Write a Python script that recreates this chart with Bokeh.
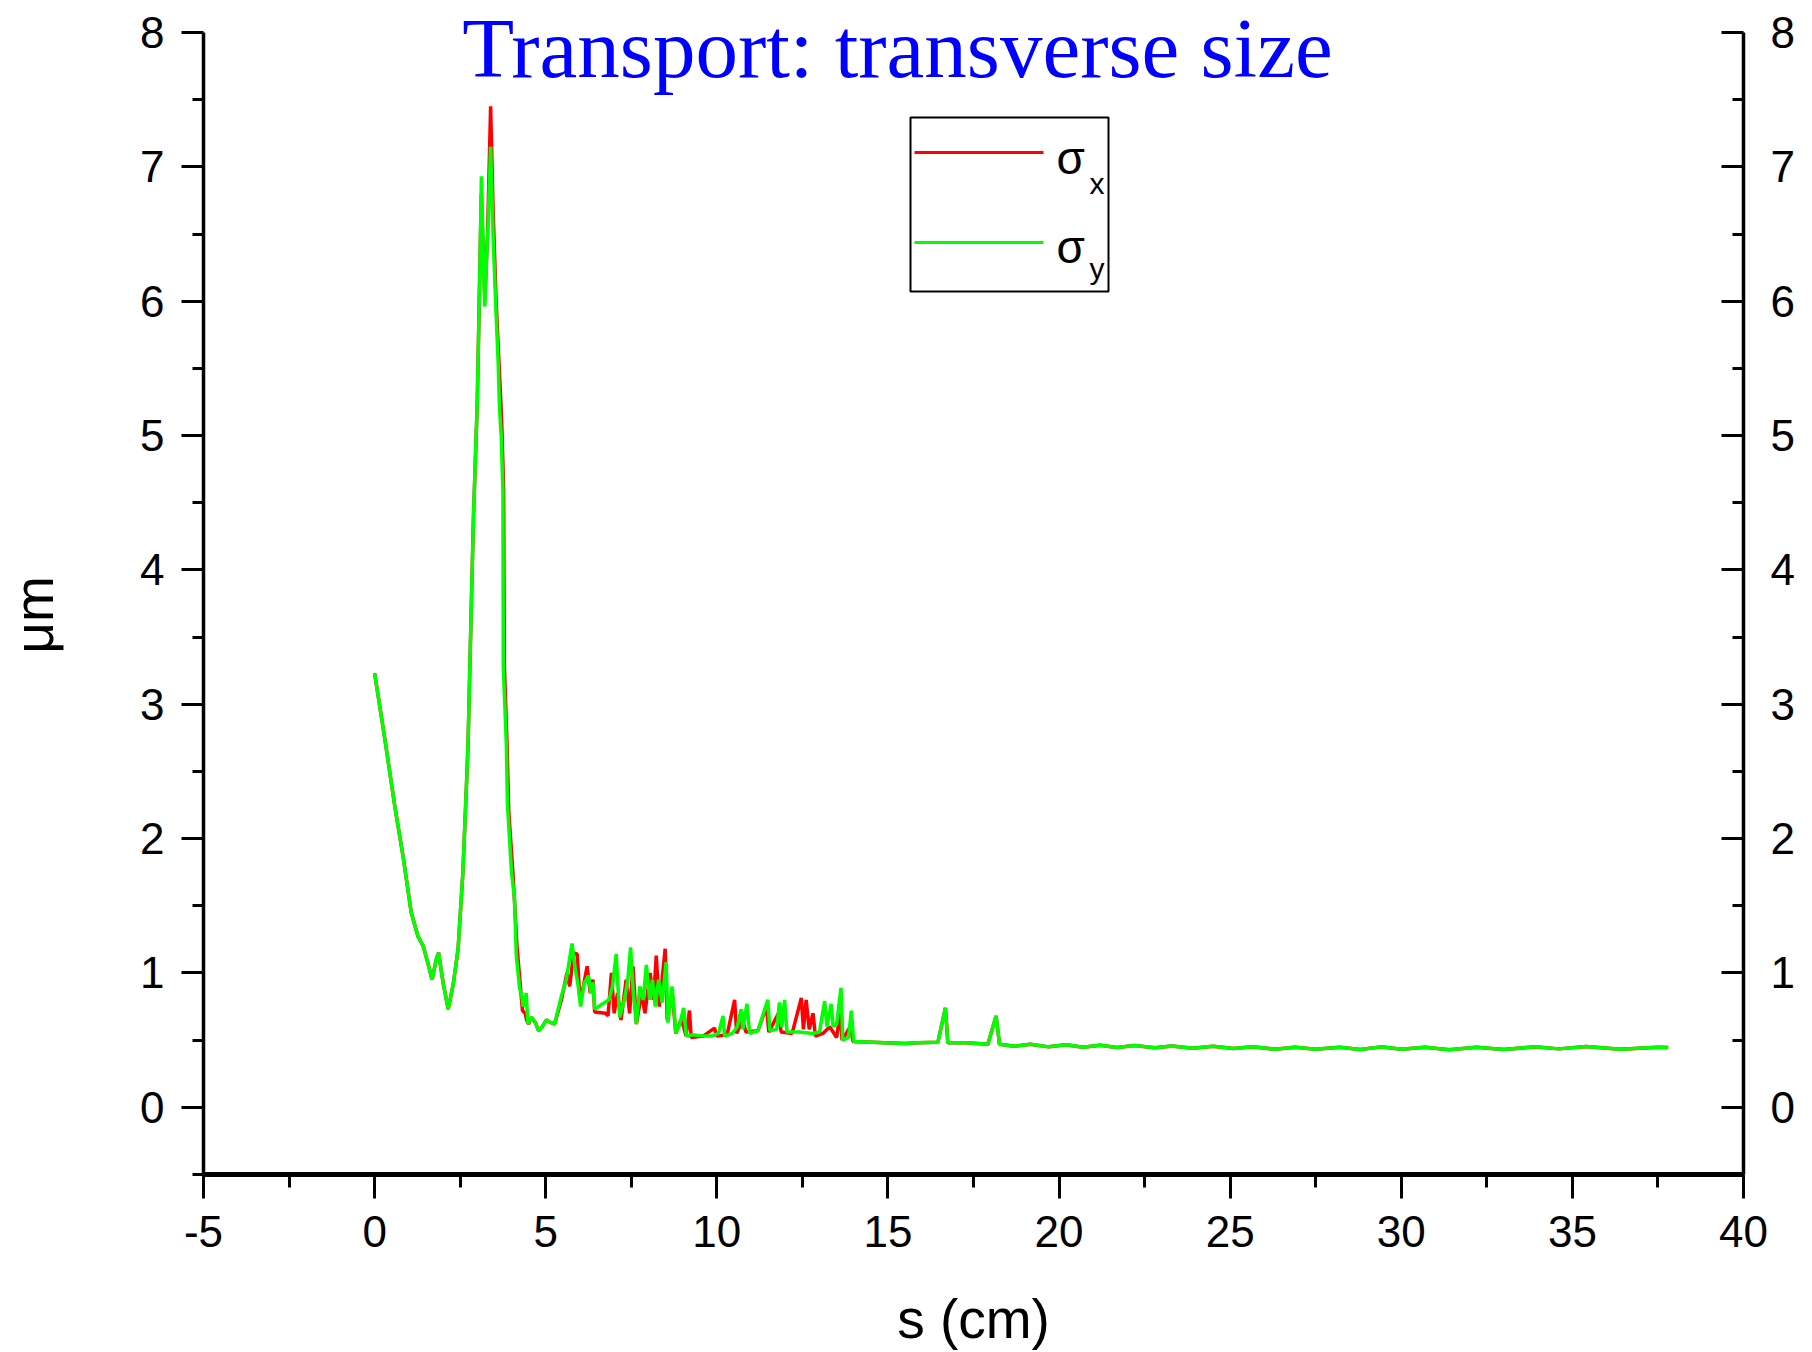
import math
from bokeh.plotting import figure
from bokeh.models import Range1d, LinearAxis, FixedTicker, Label, BoxAnnotation, PolyAnnotation
from bokeh.embed import file_html
from bokeh.resources import INLINE

# ---------------- data ----------------
# shared initial part (s in cm, size in µm)
s_start = [0.00, 0.30, 0.59, 0.83, 1.07, 1.27, 1.42, 1.55, 1.68, 1.80, 1.87, 2.00, 2.15, 2.30,
           2.44, 2.58, 2.68, 2.73, 2.83, 2.89, 3.00, 3.08]
v_start = [3.23, 2.74, 2.24, 1.87, 1.45, 1.27, 1.20, 1.08, 0.95, 1.10, 1.15, 0.93, 0.73, 0.92,
           1.18, 1.75, 2.37, 2.70, 3.78, 4.40, 5.25, 6.30]

# sigma_x middle part
s_x_mid = [3.12, 3.22, 3.30, 3.39, 3.46, 3.55, 3.62, 3.68, 3.72, 3.77, 3.79, 3.87, 3.92, 4.04,
           4.16, 4.26, 4.32, 4.40, 4.44, 4.50, 4.58, 4.70, 4.79, 4.90, 5.02, 5.15, 5.26, 5.46,
           5.62, 5.70, 5.82, 5.92, 6.00, 6.10, 6.21, 6.30, 6.38, 6.43, 6.75, 6.82, 6.92, 7.00,
           7.10, 7.20, 7.35, 7.45, 7.55, 7.65, 7.80, 7.90, 8.05, 8.15, 8.23, 8.32, 8.40, 8.49,
           8.55, 8.70, 8.80, 8.95, 9.03, 9.10, 9.20, 9.25, 9.60, 9.93, 10.00, 10.30, 10.52,
           10.58, 10.75, 10.85, 11.20, 11.45, 11.52, 11.80, 11.88, 12.20, 12.47, 12.53, 12.61,
           12.70, 12.81, 12.88, 13.10, 13.30, 13.50, 13.60, 13.66, 13.90, 13.98]
v_x_mid = [6.80, 6.00, 6.50, 7.45, 6.70, 6.00, 5.62, 5.30, 5.05, 4.60, 3.30, 2.70, 2.20, 1.75,
           1.20, 0.90, 0.72, 0.70, 0.65, 0.62, 0.67, 0.63, 0.57, 0.60, 0.65, 0.63, 0.62, 0.80,
           1.00, 0.90, 1.15, 1.14, 0.80, 0.90, 1.05, 0.85, 0.95, 0.71, 0.70, 0.68, 1.00, 0.70,
           0.85, 0.65, 0.95, 0.70, 1.05, 0.62, 0.85, 0.70, 1.00, 0.80, 1.13, 0.75, 0.95, 1.18,
           0.65, 0.85, 0.55, 0.65, 0.60, 0.53, 0.72, 0.52, 0.53, 0.59, 0.53, 0.54, 0.80,
           0.55, 0.65, 0.56, 0.57, 0.75, 0.56, 0.70, 0.56, 0.55, 0.815, 0.58, 0.80,
           0.58, 0.70, 0.53, 0.55, 0.60, 0.52, 0.70, 0.50, 0.60, 0.49]

# sigma_y middle part
s_y_mid = [3.12, 3.17, 3.22, 3.27, 3.32, 3.39, 3.46, 3.55, 3.61, 3.65, 3.70, 3.75, 3.76, 3.85,
           3.88, 4.00, 4.09, 4.14, 4.24, 4.29, 4.34, 4.43, 4.48, 4.58, 4.70, 4.79, 4.90, 5.02,
           5.15, 5.26, 5.46, 5.60, 5.77, 5.85, 5.95, 6.02, 6.12, 6.25, 6.32, 6.38, 6.43, 6.60,
           6.85, 6.95, 7.06, 7.16, 7.30, 7.40, 7.48, 7.56, 7.65, 7.75, 7.85, 7.94, 8.04, 8.12,
           8.20, 8.30, 8.40, 8.52, 8.57, 8.69, 8.81, 8.92, 9.03, 9.11, 9.30, 9.60, 9.84, 10.05,
           10.18, 10.23, 10.45, 10.60, 10.71, 10.76, 10.88, 10.96, 11.20, 11.49, 11.55, 11.75,
           11.83, 11.90, 11.98, 12.05, 12.40, 12.80, 13.00, 13.15, 13.22, 13.34, 13.40, 13.50,
           13.63, 13.68, 13.85, 13.93, 14.00]
v_y_mid = [6.93, 6.40, 5.96, 6.30, 6.60, 7.15, 6.50, 5.90, 5.55, 5.20, 5.00, 4.58, 3.28, 2.70,
           2.27, 1.75, 1.55, 1.13, 0.88, 0.85, 0.75, 0.85, 0.62, 0.67, 0.63, 0.57, 0.60, 0.65,
           0.63, 0.62, 0.83, 0.95, 1.22, 1.05, 0.90, 0.75, 0.92, 0.98, 0.85, 0.93, 0.73, 0.76,
           0.80, 0.90, 1.14, 0.67, 0.80, 0.95, 1.19, 0.85, 0.62, 0.90, 0.80, 1.06, 0.80, 0.95,
           0.75, 0.95, 0.78, 1.08, 0.63, 0.90, 0.55, 0.62, 0.74, 0.53, 0.54, 0.53, 0.53, 0.55,
           0.68, 0.53, 0.55, 0.60, 0.73, 0.58, 0.77, 0.55, 0.57, 0.80, 0.57, 0.58,
           0.78, 0.60, 0.80, 0.56, 0.56, 0.55, 0.56, 0.79, 0.60, 0.77, 0.60, 0.62,
           0.89, 0.50, 0.52, 0.72, 0.49]

# shared tail
s_tail = [14.9, 15.5, 15.87, 16.46, 16.68, 16.75, 17.3, 17.92, 18.16, 18.26, 18.7, 19.16, 19.7,
          20.2, 20.7, 21.2, 21.7, 22.2, 22.8, 23.3, 23.9, 24.5, 25.1, 25.65, 26.3, 26.9, 27.5,
          28.2, 28.8, 29.4, 30.0, 30.7, 31.4, 32.2, 33.0, 33.9, 34.6, 35.4, 36.4, 37.5, 37.8]
v_tail = [0.48, 0.475, 0.48, 0.485, 0.74, 0.48, 0.48, 0.47, 0.68, 0.47, 0.455, 0.47, 0.45,
          0.465, 0.447, 0.462, 0.445, 0.46, 0.443, 0.457, 0.44, 0.455, 0.437, 0.45, 0.433, 0.447,
          0.432, 0.447, 0.43, 0.45, 0.433, 0.447, 0.428, 0.447, 0.43, 0.45, 0.435, 0.452, 0.432,
          0.447, 0.445]

x_ticks = [-5, 0, 5, 10, 15, 20, 25, 30, 35, 40]
x_minor = [-2.5, 2.5, 7.5, 12.5, 17.5, 22.5, 27.5, 32.5, 37.5]
y_ticks = [0, 1, 2, 3, 4, 5, 6, 7, 8]
y_minor = [-0.5, 0.5, 1.5, 2.5, 3.5, 4.5, 5.5, 6.5, 7.5]
y_axis_span = (-0.5, 8)

title_text = "Transport: transverse size"
x_label = "s (cm)"
y_label = "\u03bcm"

s_x = s_start + s_x_mid + s_tail
sigma_x = v_start + v_x_mid + v_tail
s_y = s_start + s_y_mid + s_tail
sigma_y = v_start + v_y_mid + v_tail

# ---------------- figure ----------------
# frame reaches the top of the canvas so the title (drawn inside it) is not clipped;
# the y axes themselves stop at 8 via their bounds
p = figure(width=1812, height=1352, x_range=Range1d(-5, 40), y_range=Range1d(-0.5, 8.238),
           output_backend="svg", toolbar_location=None, title=None,
           x_axis_location=None, y_axis_location=None,
           min_border_left=202, min_border_right=69, min_border_top=0, min_border_bottom=177)
p.outline_line_color = None
p.xgrid.grid_line_color = None
p.ygrid.grid_line_color = None
p.background_fill_color = "white"
p.border_fill_color = "white"

FONT = "Liberation Sans"

xb = LinearAxis(ticker=FixedTicker(ticks=x_ticks, minor_ticks=x_minor))
xb.axis_line_width = 5
xb.major_tick_line_width = 3
xb.minor_tick_line_width = 3
xb.major_tick_out = 24
xb.major_tick_in = 0
xb.minor_tick_out = 13
xb.minor_tick_in = 0
xb.major_label_standoff = 17
xb.major_label_text_font = FONT
xb.major_label_text_font_size = "44px"
xb.major_label_text_color = "black"
xb.major_label_overrides = {-5: "-5"}
xb.axis_label = x_label
xb.axis_label_standoff = 38
xb.axis_label_text_font = FONT
xb.axis_label_text_font_size = "55px"
xb.axis_label_text_font_style = "normal"
xb.axis_label_text_color = "black"
p.add_layout(xb, "below")

yl = LinearAxis(ticker=FixedTicker(ticks=y_ticks, minor_ticks=y_minor), bounds=y_axis_span)
yl.axis_line_width = 3.5
yl.major_tick_line_width = 3
yl.minor_tick_line_width = 3
yl.major_tick_out = 22
yl.major_tick_in = 0
yl.minor_tick_out = 11
yl.minor_tick_in = 0
yl.major_label_standoff = 17
yl.major_label_text_font = FONT
yl.major_label_text_font_size = "44px"
yl.major_label_text_color = "black"
# two trailing en spaces move the centred label down to where the reference has it
yl.axis_label = y_label + "\u2002\u2002"
yl.axis_label_standoff = 72
yl.axis_label_text_font = FONT
yl.axis_label_text_font_size = "55px"
yl.axis_label_text_font_style = "normal"
yl.axis_label_text_color = "black"
p.add_layout(yl, "left")

yr = LinearAxis(ticker=FixedTicker(ticks=y_ticks, minor_ticks=y_minor), bounds=y_axis_span)
yr.axis_line_width = 3.5
yr.major_tick_line_width = 3
yr.minor_tick_line_width = 3
yr.major_tick_out = 0
yr.major_tick_in = 22
yr.minor_tick_out = 0
yr.minor_tick_in = 11
yr.major_label_standoff = 27
yr.major_label_text_font = FONT
yr.major_label_text_font_size = "44px"
yr.major_label_text_color = "black"
p.add_layout(yr, "right")

p.line(s_x, sigma_x, line_color="#FF0000", line_width=3.5)
p.line(s_y, sigma_y, line_color="#00FF00", line_width=3.5)

# title (inside the frame, near the top, kept fully inside the page)
p.add_layout(Label(x=694, y=1127, x_units="screen", y_units="screen", text=title_text,
                   text_align="center", text_baseline="alphabetic",
                   text_font="Liberation Serif", text_font_size="85px", text_color="#0000FF"))

# legend
p.add_layout(BoxAnnotation(left=707, right=905, top=1057, bottom=883,
                           left_units="screen", right_units="screen",
                           top_units="screen", bottom_units="screen",
                           fill_color="white", fill_alpha=1.0,
                           line_color="black", line_width=2, line_alpha=1.0))
p.add_layout(PolyAnnotation(xs=[711, 840], ys=[1022, 1022], xs_units="screen", ys_units="screen",
                            line_color="#FF0000", line_width=3, line_alpha=1.0, fill_alpha=0))
p.add_layout(PolyAnnotation(xs=[711, 840], ys=[932, 932], xs_units="screen", ys_units="screen",
                            line_color="#00FF00", line_width=3, line_alpha=1.0, fill_alpha=0))
for yy, sub, ysub in [(1017, "x", 991), (928, "y", 906)]:
    p.add_layout(Label(x=853, y=yy, x_units="screen", y_units="screen", text="\u03c3",
                       text_align="left", text_baseline="alphabetic",
                       text_font=FONT, text_font_size="46px", text_color="black"))
    p.add_layout(Label(x=886, y=ysub, x_units="screen", y_units="screen", text=sub,
                       text_align="left", text_baseline="alphabetic",
                       text_font=FONT, text_font_size="30px", text_color="black"))

open("out.html", "w").write(file_html(p, INLINE))
